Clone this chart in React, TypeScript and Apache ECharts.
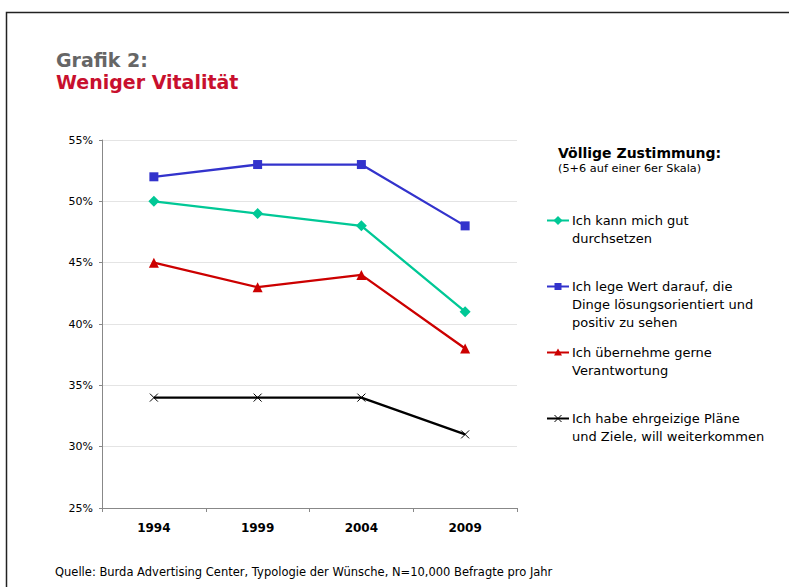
import React, { useEffect, useRef } from "react";
import * as echarts from "echarts";

const years = ["1994", "1999", "2004", "2009"];
const durchsetzen = [50, 49, 48, 41];
const loesungsorientiert = [52, 53, 53, 48];
const verantwortung = [45, 43, 44, 38];
const ehrgeizig = [34, 34, 34, 31];

const seriesNames = [
  "Ich kann mich gut\ndurchsetzen",
  "Ich lege Wert darauf, die\nDinge lösungsorientiert und\npositiv zu sehen",
  "Ich übernehme gerne\nVerantwortung",
  "Ich habe ehrgeizige Pläne\nund Ziele, will weiterkommen",
];
const seriesColors = ["#00C896", "#3333CC", "#CC0000", "#000000"];
const titleLine1 = "Grafik 2:";
const titleLine2 = "Weniger Vitalität";
const legendHeading = "Völlige Zustimmung:";
const legendSub = "(5+6 auf einer 6er Skala)";
const footnote = "Quelle: Burda Advertising Center, Typologie der Wünsche, N=10,000 Befragte pro Jahr";

const CROSS = "path://M0,0L10,10M10,0L0,10";
const FONT = "DejaVu Sans, Verdana, sans-serif";

export default function App() {
  const ref = useRef<HTMLDivElement>(null);
  useEffect(() => {
    document.body.style.margin = "0";
    const chart = echarts.init(ref.current!, null, { renderer: "svg" });

    const legendY = [220.5, 286.5, 352.5, 418.5];
    const legendGraphics: any[] = [];
    seriesNames.forEach((name, i) => {
      const y = legendY[i];
      const c = seriesColors[i];
      legendGraphics.push({
        type: "line",
        shape: { x1: 547, y1: y, x2: 569, y2: y },
        style: { stroke: c, lineWidth: 2 },
      });
      const cx = 558;
      if (i === 0) {
        legendGraphics.push({
          type: "polygon",
          shape: { points: [[cx, y - 4.5], [cx + 4.5, y], [cx, y + 4.5], [cx - 4.5, y]] },
          style: { fill: c },
        });
      } else if (i === 1) {
        legendGraphics.push({
          type: "rect",
          shape: { x: cx - 3.5, y: y - 3.5, width: 7, height: 7 },
          style: { fill: c },
        });
      } else if (i === 2) {
        legendGraphics.push({
          type: "polygon",
          shape: { points: [[cx, y - 4], [cx + 4, y + 3], [cx - 4, y + 3]] },
          style: { fill: c },
        });
      } else {
        legendGraphics.push({
          type: "line",
          shape: { x1: cx - 3.5, y1: y - 3.5, x2: cx + 3.5, y2: y + 3.5 },
          style: { stroke: c, lineWidth: 1 },
        });
        legendGraphics.push({
          type: "line",
          shape: { x1: cx + 3.5, y1: y - 3.5, x2: cx - 3.5, y2: y + 3.5 },
          style: { stroke: c, lineWidth: 1 },
        });
      }
      legendGraphics.push({
        type: "text",
        x: 572,
        y: y - 9,
        style: {
          text: name,
          font: `13px ${FONT}`,
          fill: "#000",
          lineHeight: 18,
          verticalAlign: "top",
          align: "left",
        },
      });
    });

    const data = [durchsetzen, loesungsorientiert, verantwortung, ehrgeizig];
    const symbols = ["diamond", "rect", "triangle", CROSS];
    const sizes = [11, 9, 10, 8];

    chart.setOption({
      animation: false,
      backgroundColor: "#fff",
      grid: { left: 102, right: 272, top: 140, bottom: 79, containLabel: false },
      xAxis: {
        type: "category",
        data: years,
        boundaryGap: true,
        axisLine: { lineStyle: { color: "#888", width: 1 } },
        axisTick: { show: true, length: 4, lineStyle: { color: "#888" } },
        axisLabel: {
          margin: 14,
          fontFamily: FONT,
          fontSize: 12,
          fontWeight: "bold",
          color: "#000",
        },
      },
      yAxis: {
        type: "value",
        min: 25,
        max: 55,
        interval: 5,
        axisLine: { show: true, lineStyle: { color: "#888", width: 1 } },
        axisTick: { show: true, length: 3, lineStyle: { color: "#888" } },
        splitLine: { lineStyle: { color: "#e4e4e4", width: 1 } },
        axisLabel: {
          formatter: "{value}%",
          margin: 9,
          fontFamily: FONT,
          fontSize: 11,
          color: "#000",
        },
      },
      series: data.map((d, i) => ({
        type: "line",
        name: seriesNames[i],
        data: d,
        symbol: symbols[i],
        symbolSize: sizes[i],
        showAllSymbol: true,
        lineStyle: { color: seriesColors[i], width: 2.3 },
        itemStyle:
          i === 3
            ? { color: "none", borderColor: "#000", borderWidth: 1 }
            : { color: seriesColors[i] },
        z: 10 - i,
      })),
      graphic: [
        {
          type: "rect",
          shape: { x: 6.5, y: 12.5, width: 900, height: 700 },
          style: { fill: "none", stroke: "#222", lineWidth: 1.5 },
          silent: true,
        },
        {
          type: "text",
          x: 56,
          y: 60,
          scaleX: 0.95,
          style: {
            text: titleLine1,
            font: `bold 20px ${FONT}`,
            fill: "#666666",
            verticalAlign: "middle",
          },
        },
        {
          type: "text",
          x: 56,
          y: 82.5,
          scaleX: 0.95,
          style: {
            text: titleLine2,
            font: `bold 20px ${FONT}`,
            fill: "#C8102E",
            verticalAlign: "middle",
          },
        },
        {
          type: "text",
          x: 558,
          y: 153,
          style: {
            text: legendHeading,
            font: `bold 14px ${FONT}`,
            fill: "#000",
            verticalAlign: "middle",
          },
        },
        {
          type: "text",
          x: 558,
          y: 168,
          style: {
            text: legendSub,
            font: `11.3px ${FONT}`,
            fill: "#000",
            verticalAlign: "middle",
          },
        },
        {
          type: "text",
          x: 55,
          y: 572,
          style: {
            text: footnote,
            font: `11.5px ${FONT}`,
            fill: "#000",
            verticalAlign: "middle",
          },
        },
        ...legendGraphics,
      ],
    });
    return () => chart.dispose();
  }, []);
  return <div ref={ref} style={{ width: 789, height: 587 }} />;
}
